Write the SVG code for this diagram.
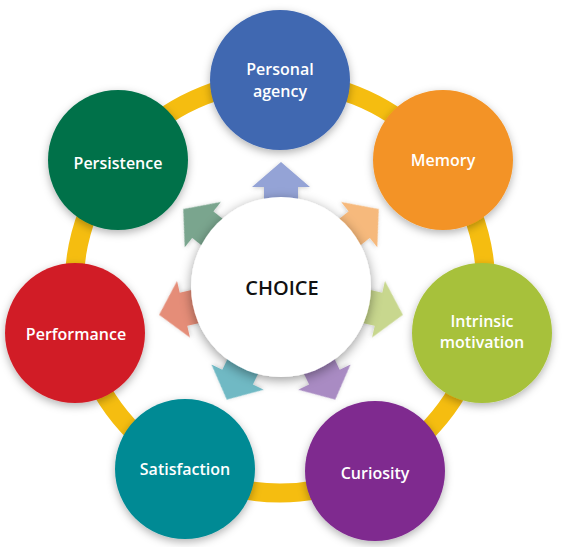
<svg xmlns="http://www.w3.org/2000/svg" xmlns:xlink="http://www.w3.org/1999/xlink" width="562" height="547" viewBox="0 0 562 547">
  <style>
    .node { filter: url(#sh); }
    .lbl { font-family: "Open Sans", "Liberation Sans", sans-serif; font-weight: 600; font-size: 16px; fill: #ffffff; text-anchor: middle; }
    .center-lbl { font-family: "Open Sans", "Liberation Sans", sans-serif; font-weight: 600; font-size: 20px; fill: #111111; text-anchor: middle; }
    .ring { fill: none; stroke: #f5bd10; stroke-width: 19; }
    .arrow { filter: url(#ash); }
  </style>
  <defs>
    <filter id="sh" x="-30%" y="-30%" width="160%" height="160%">
      <feDropShadow dx="0" dy="3" stdDeviation="4" flood-color="#000" flood-opacity="0.3"/>
    </filter>
    <filter id="csh" x="-30%" y="-30%" width="160%" height="160%">
      <feDropShadow dx="0" dy="3" stdDeviation="6" flood-color="#000" flood-opacity="0.4"/>
    </filter>
    <filter id="ash" x="-30%" y="-30%" width="160%" height="160%">
      <feDropShadow dx="0" dy="1" stdDeviation="2" flood-color="#000" flood-opacity="0.2"/>
    </filter>
    <path id="arr" d="M -17,-70 L -17,-100 L -29,-100 L 0,-125 L 29,-100 L 17,-100 L 17,-70 Z"/>
  </defs>
  <rect width="562" height="547" fill="#ffffff"/>

  <g id="connectors">
    <circle class="ring" cx="280" cy="287" r="206"/>
    <g transform="translate(281,287)">
      <use class="arrow" xlink:href="#arr" href="#arr" fill="#94a3d6" transform="rotate(0)"/>
      <use class="arrow" xlink:href="#arr" href="#arr" fill="#f6b97c" transform="rotate(51.43)"/>
      <use class="arrow" xlink:href="#arr" href="#arr" fill="#c8d78e" transform="rotate(102.86)"/>
      <use class="arrow" xlink:href="#arr" href="#arr" fill="#a98bc3" transform="rotate(154.29)"/>
      <use class="arrow" xlink:href="#arr" href="#arr" fill="#6fb9c4" transform="rotate(205.71)"/>
      <use class="arrow" xlink:href="#arr" href="#arr" fill="#e58d78" transform="rotate(257.14)"/>
      <use class="arrow" xlink:href="#arr" href="#arr" fill="#7aa58e" transform="rotate(308.57)"/>
    </g>
  </g>

  <g id="choice">
    <circle cx="281" cy="287" r="90" fill="#ffffff" filter="url(#csh)"/>
    <text class="center-lbl" x="282" y="295">CHOICE</text>
  </g>

  <g id="personal-agency">
    <circle class="node" cx="280" cy="80" r="70" fill="#3f67b1"/>
    <text class="lbl" x="280" y="75">Personal</text>
    <text class="lbl" x="280" y="97">agency</text>
  </g>

  <g id="memory">
    <circle class="node" cx="443" cy="160" r="70" fill="#f39325"/>
    <text class="lbl" x="443" y="166">Memory</text>
  </g>

  <g id="intrinsic-motivation">
    <circle class="node" cx="482" cy="333" r="70" fill="#a7c13a"/>
    <text class="lbl" x="482" y="327">Intrinsic</text>
    <text class="lbl" x="482" y="348">motivation</text>
  </g>

  <g id="curiosity">
    <circle class="node" cx="375" cy="471" r="70" fill="#7f2a8f"/>
    <text class="lbl" x="375" y="479">Curiosity</text>
  </g>

  <g id="satisfaction">
    <circle class="node" cx="185" cy="469" r="70" fill="#008a94"/>
    <text class="lbl" x="185" y="475">Satisfaction</text>
  </g>

  <g id="performance">
    <circle class="node" cx="75" cy="333" r="70" fill="#d11f28"/>
    <text class="lbl" x="76" y="340">Performance</text>
  </g>

  <g id="persistence">
    <circle class="node" cx="118" cy="160" r="70" fill="#00714a"/>
    <text class="lbl" x="118" y="169">Persistence</text>
  </g>
</svg>
